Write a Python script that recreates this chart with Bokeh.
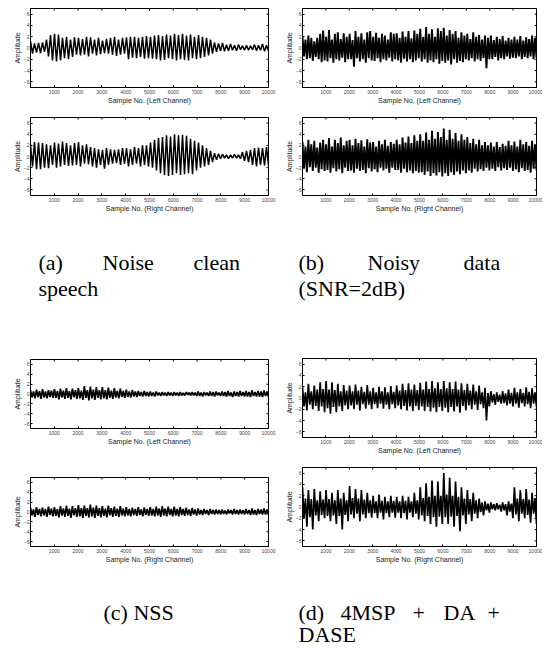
import numpy as np
from bokeh.plotting import figure
from bokeh.models import Range1d, FixedTicker, LinearAxis
from bokeh.layouts import row, column
from bokeh.core.properties import value
from bokeh.embed import file_html
from bokeh.resources import INLINE

# ---------------- data (peak / trough envelopes) ----------------
X_TICKS = [1000, 2000, 3000, 4000, 5000, 6000, 7000, 8000, 9000, 10000]
Y_TICKS = [-6, -4, -2, 0, 2, 4, 6]
X_MIN, X_MAX = 0, 10000
Y_MIN, Y_MAX = -7, 7

# (a) Noise clean speech
a_left_hi = [1.2, 0.8, 0.9, 1.0, 1.5, 2.3,
             2.5, 2.4, 1.8, 2.0, 1.5, 1.9,
             1.8, 1.6, 2.0, 1.9, 1.5, 1.8,
             1.3, 1.6, 1.8, 2.0, 1.5, 1.8,
             1.9, 2.0, 2.0, 1.8, 2.0, 2.1,
             2.0, 2.2, 2.3, 2.1, 2.4, 2.2,
             2.5, 2.3, 2.5, 2.2, 2.4, 2.0,
             2.3, 2.0, 1.8, 1.5, 1.0, 0.8,
             0.9, 0.6, 0.7, 0.5, 0.6, 0.4,
             0.5, 0.4, 0.6, 0.5, 0.7, 0.5]
a_left_lo = [-1.0, -0.8, -0.9, -0.7, -1.5, -2.2,
             -2.4, -2.2, -1.8, -2.0, -1.6, -1.2,
             -1.3, -1.2, -1.5, -1.0, -1.3, -1.1,
             -0.9, -1.0, -1.2, -1.4, -1.2, -1.0,
             -2.0, -1.7, -1.8, -1.6, -1.9, -1.8,
             -1.9, -2.0, -2.2, -2.1, -1.8, -2.0,
             -2.2, -2.0, -2.1, -2.2, -1.8, -2.0,
             -1.8, -1.6, -1.3, -1.0, -0.7, -0.5,
             -0.6, -0.5, -0.4, -0.5, -0.3, -0.4,
             -0.4, -0.3, -0.5, -0.4, -0.6, -0.5]
a_right_hi = [2.2, 2.6, 2.5, 2.4, 2.2, 2.0,
              2.5, 2.3, 2.7, 2.4, 2.0, 2.4,
              2.6, 2.0, 2.2, 1.7, 1.5, 1.3,
              1.2, 1.5, 1.3, 1.2, 1.3, 1.5,
              1.5, 1.3, 1.7, 1.5, 2.0, 2.0,
              2.5, 3.0, 3.3, 3.5, 3.8, 3.6,
              4.0, 3.8, 3.9, 3.7, 3.2, 2.8,
              2.5, 2.0, 1.5, 1.0, 0.6, 0.5,
              0.4, 0.3, 0.3, 0.4, 0.3, 0.8,
              1.0, 1.2, 1.5, 1.6, 1.5, 1.7]
a_right_lo = [-1.8, -2.3, -2.3, -2.0, -2.1, -1.5,
              -2.0, -1.8, -1.5, -1.7, -1.6, -1.5,
              -1.8, -1.3, -1.4, -1.8, -2.0, -1.5,
              -2.2, -1.5, -1.3, -1.2, -1.5, -1.3,
              -1.8, -1.5, -1.3, -1.8, -1.5, -1.8,
              -2.0, -2.5, -3.0, -3.3, -3.5, -3.3,
              -3.0, -3.3, -3.2, -3.0, -3.2, -2.5,
              -2.0, -1.8, -1.5, -1.0, -0.6, -0.4,
              -0.3, -0.4, -0.3, -0.3, -0.4, -0.8,
              -1.0, -1.5, -1.8, -1.5, -1.6, -1.6]

# (b) Noisy data (SNR=2dB)
b_left_hi = [2.0, 1.5, 2.2, 1.8, 1.2, 1.8, 2.5, 3.1,
             2.0, 3.2, 1.5, 2.5, 2.8, 1.6, 2.6, 2.0,
             2.5, 1.4, 3.0, 2.0, 2.6, 1.5, 2.8, 3.0,
             2.0, 2.7, 1.8, 2.5, 2.2, 1.5, 2.8, 2.5,
             2.6, 1.8, 2.9, 2.0, 3.0, 1.7, 3.1, 2.5,
             3.4, 2.0, 3.7, 2.5, 3.3, 2.0, 3.5, 3.0,
             3.6, 2.2, 3.2, 2.5, 3.0, 1.8, 2.8, 2.2,
             2.5, 1.6, 2.8, 2.0, 2.3, 1.5, 2.2, 1.8,
             2.2, 1.4, 2.0, 1.6, 2.1, 1.3, 1.8, 1.5,
             2.0, 1.5, 2.1, 1.3, 1.9, 1.6, 2.2, 1.8]
b_left_lo = [-1.5, -2.0, -1.8, -2.3, -1.6, -2.0, -2.5, -2.2,
             -2.4, -1.8, -2.6, -2.0, -2.2, -1.7, -2.5, -2.0,
             -2.0, -3.3, -1.8, -2.4, -2.0, -2.6, -1.8, -2.2,
             -2.3, -1.8, -2.5, -2.0, -2.2, -1.7, -2.4, -2.0,
             -2.2, -2.6, -1.9, -2.4, -2.0, -2.5, -2.2, -1.8,
             -2.4, -2.0, -2.6, -2.2, -2.5, -2.0, -2.8, -2.3,
             -2.6, -2.2, -2.9, -2.0, -2.6, -2.3, -2.5, -2.0,
             -2.2, -1.8, -2.4, -2.0, -2.3, -1.8, -3.6, -2.0,
             -2.0, -1.6, -2.2, -1.8, -2.0, -1.5, -1.9, -1.7,
             -1.8, -1.5, -2.0, -1.6, -1.8, -1.5, -2.0, -1.7]
b_right_hi = [2.6, 1.8, 3.0, 2.2, 2.8, 1.6, 2.5, 3.0,
              2.2, 3.3, 1.8, 3.0, 2.4, 3.4, 2.0, 2.8,
              3.0, 2.0, 3.2, 2.4, 2.9, 1.8, 3.1, 2.5,
              2.6, 1.8, 2.8, 2.2, 3.0, 1.9, 2.6, 2.3,
              3.0, 2.2, 3.4, 2.5, 3.6, 2.4, 3.8, 2.8,
              4.0, 2.8, 4.3, 3.0, 4.6, 3.2, 4.4, 3.5,
              5.0, 3.0, 4.8, 3.2, 4.2, 2.8, 4.0, 3.0,
              3.5, 2.4, 3.2, 2.2, 3.0, 2.0, 2.6, 2.0,
              2.5, 1.8, 2.6, 1.7, 2.3, 1.9, 2.8, 2.0,
              2.7, 1.8, 3.0, 2.2, 2.6, 1.9, 2.8, 2.2]
b_right_lo = [-2.2, -2.8, -1.9, -2.6, -2.0, -2.9, -2.3, -2.6,
              -2.4, -2.9, -2.1, -2.7, -2.3, -3.0, -2.0, -2.6,
              -2.5, -2.9, -2.2, -2.6, -2.4, -3.0, -2.1, -2.7,
              -2.3, -2.8, -2.0, -2.5, -2.2, -2.9, -2.0, -2.4,
              -2.4, -2.9, -2.2, -2.8, -2.5, -3.0, -2.6, -2.9,
              -2.8, -3.3, -2.7, -3.5, -3.0, -3.4, -2.8, -3.6,
              -3.0, -3.5, -2.8, -3.3, -2.7, -3.2, -2.5, -3.0,
              -2.5, -2.9, -2.2, -2.7, -2.3, -2.6, -2.0, -2.5,
              -2.2, -2.6, -1.9, -2.5, -2.1, -2.4, -2.0, -2.6,
              -2.3, -2.8, -2.1, -2.6, -2.4, -2.9, -2.2, -2.5]

# (c) NSS
c_left_hi = [0.8, 0.5, 0.9, 0.6, 1.0, 0.5, 0.8, 0.7,
             1.0, 0.6, 1.1, 0.7, 1.2, 0.6, 1.1, 0.8,
             1.2, 0.7, 1.6, 0.8, 1.5, 0.9, 1.4, 0.8,
             1.4, 0.8, 1.3, 0.7, 1.2, 0.6, 1.1, 0.6,
             0.9, 0.5, 0.8, 0.5, 0.6, 0.4, 0.6, 0.4,
             0.5, 0.3, 0.5, 0.3, 0.4, 0.3, 0.4, 0.3,
             0.4, 0.3, 0.4, 0.2, 0.4, 0.3, 0.4, 0.3,
             0.5, 0.3, 0.4, 0.3, 0.5, 0.4, 0.5, 0.3,
             0.5, 0.4, 0.6, 0.3, 0.5, 0.4, 0.6, 0.4,
             0.6, 0.4, 0.7, 0.4, 0.6, 0.5, 0.7, 0.5]
c_left_lo = [-0.7, -0.9, -0.6, -1.0, -0.7, -0.9, -0.6, -0.8,
             -0.8, -1.1, -0.7, -1.0, -0.8, -1.1, -0.7, -1.0,
             -0.9, -1.2, -0.8, -1.3, -0.9, -1.2, -0.8, -1.1,
             -0.9, -1.1, -0.8, -1.0, -0.7, -0.9, -0.6, -0.8,
             -0.6, -0.7, -0.5, -0.6, -0.4, -0.5, -0.4, -0.5,
             -0.4, -0.5, -0.3, -0.4, -0.3, -0.4, -0.3, -0.4,
             -0.3, -0.4, -0.3, -0.3, -0.2, -0.3, -0.3, -0.4,
             -0.4, -0.5, -0.3, -0.4, -0.4, -0.5, -0.3, -0.4,
             -0.4, -0.5, -0.4, -0.6, -0.4, -0.5, -0.4, -0.5,
             -0.5, -0.6, -0.4, -0.5, -0.5, -0.6, -0.4, -0.6]
c_right_hi = [0.9, 0.5, 1.0, 0.6, 0.9, 0.6, 1.1, 0.7,
              1.0, 0.6, 1.2, 0.7, 1.3, 0.7, 1.2, 0.8,
              1.4, 0.8, 1.3, 0.8, 1.5, 0.9, 1.3, 0.8,
              1.2, 0.7, 1.3, 0.8, 1.1, 0.7, 1.2, 0.7,
              1.0, 0.6, 0.9, 0.6, 1.0, 0.5, 0.9, 0.6,
              1.0, 0.6, 1.1, 0.7, 1.2, 0.7, 1.1, 0.6,
              1.1, 0.6, 1.0, 0.6, 0.9, 0.5, 0.8, 0.5,
              0.7, 0.4, 0.6, 0.4, 0.6, 0.4, 0.5, 0.4,
              0.5, 0.3, 0.5, 0.4, 0.6, 0.4, 0.5, 0.4,
              0.6, 0.4, 0.7, 0.4, 0.6, 0.5, 0.7, 0.5]
c_right_lo = [-0.7, -1.0, -0.6, -0.9, -0.7, -1.0, -0.6, -0.9,
              -0.8, -1.1, -0.7, -1.0, -0.8, -1.2, -0.7, -1.0,
              -0.9, -1.2, -0.8, -1.1, -0.9, -1.2, -0.8, -1.1,
              -0.8, -1.1, -0.7, -1.0, -0.8, -1.0, -0.7, -0.9,
              -0.7, -0.9, -0.6, -0.8, -0.6, -0.9, -0.6, -0.8,
              -0.7, -0.9, -0.7, -1.0, -0.7, -0.9, -0.6, -0.9,
              -0.7, -0.9, -0.6, -0.8, -0.6, -0.8, -0.5, -0.7,
              -0.5, -0.6, -0.4, -0.6, -0.4, -0.5, -0.4, -0.5,
              -0.4, -0.5, -0.3, -0.5, -0.4, -0.5, -0.4, -0.5,
              -0.4, -0.6, -0.5, -0.6, -0.4, -0.5, -0.5, -0.6]

# (d) 4MSP + DA + DASE
d_left_hi = [2.0, 1.0, 2.5, 1.2, 2.2, 1.5, 2.8, 1.6,
             3.0, 1.5, 2.8, 1.4, 2.5, 1.2, 2.3, 1.3,
             2.2, 1.2, 2.4, 1.3, 2.0, 1.1, 2.3, 1.2,
             1.8, 1.0, 2.0, 1.2, 1.9, 1.0, 2.1, 1.1,
             2.2, 1.3, 2.5, 1.4, 2.6, 1.5, 2.4, 1.4,
             2.7, 1.5, 2.9, 1.6, 3.0, 1.7, 2.8, 1.6,
             3.0, 1.7, 2.8, 1.6, 2.9, 1.5, 2.6, 1.4,
             2.5, 1.3, 2.4, 1.2, 2.2, 1.0, 1.8, 0.9,
             1.2, 0.7, 1.0, 0.6, 1.2, 0.8, 1.5, 0.9,
             1.8, 1.0, 1.6, 0.9, 1.9, 1.1, 1.7, 1.0]
d_left_lo = [-1.5, -2.2, -1.2, -2.0, -1.4, -2.3, -1.5, -2.5,
             -1.8, -2.8, -1.6, -2.5, -1.5, -2.3, -1.3, -2.0,
             -1.3, -2.0, -1.2, -2.2, -1.1, -1.9, -1.2, -2.0,
             -1.1, -1.8, -1.0, -1.9, -1.2, -2.0, -1.1, -1.8,
             -1.3, -2.0, -1.4, -2.2, -1.5, -2.3, -1.4, -2.1,
             -1.5, -2.3, -1.6, -2.4, -1.7, -2.5, -1.6, -2.3,
             -1.7, -2.5, -1.6, -2.4, -1.5, -2.6, -1.4, -2.2,
             -1.3, -2.0, -1.2, -2.1, -1.1, -1.8, -4.0, -1.5,
             -0.8, -1.2, -0.7, -1.0, -0.9, -1.3, -1.0, -1.5,
             -1.0, -1.7, -0.9, -1.5, -1.1, -1.8, -1.0, -1.6]
d_right_hi = [3.5, 1.5, 3.0, 1.4, 3.2, 1.2, 2.8, 1.3,
              3.0, 1.4, 2.5, 1.2, 3.0, 1.5, 2.5, 1.2,
              3.7, 1.6, 3.2, 1.5, 3.0, 1.3, 2.5, 1.2,
              2.0, 1.0, 2.2, 1.1, 1.8, 1.0, 2.0, 1.1,
              1.8, 1.0, 2.0, 1.1, 1.8, 1.0, 2.5, 1.2,
              3.5, 1.6, 4.2, 1.8, 4.7, 2.0, 4.5, 2.0,
              6.0, 2.2, 5.2, 2.0, 4.5, 1.8, 3.5, 1.5,
              3.0, 1.4, 2.5, 1.2, 1.5, 0.8, 1.0, 0.6,
              0.8, 0.5, 0.7, 0.4, 0.8, 0.5, 1.0, 0.6,
              3.5, 1.5, 3.0, 1.4, 3.2, 1.3, 2.5, 1.6]
d_right_lo = [-2.0, -3.5, -1.8, -4.0, -1.5, -2.5, -1.4, -2.0,
              -1.6, -2.5, -1.5, -3.0, -1.6, -4.0, -1.4, -2.5,
              -1.3, -2.0, -1.2, -2.5, -1.3, -2.0, -1.1, -1.9,
              -1.1, -2.0, -1.0, -2.2, -1.1, -1.8, -1.0, -1.9,
              -1.0, -2.0, -1.1, -2.2, -1.0, -1.8, -1.2, -2.2,
              -1.5, -2.5, -1.6, -3.0, -1.8, -3.5, -1.7, -3.0,
              -1.8, -3.0, -1.7, -3.5, -1.6, -4.3, -1.5, -3.0,
              -1.3, -2.5, -1.2, -2.0, -0.9, -1.5, -0.6, -1.0,
              -0.4, -0.6, -0.4, -0.8, -0.6, -1.5, -0.8, -2.0,
              -1.3, -2.5, -1.2, -2.0, -1.4, -2.8, -1.2, -3.0]

X_LABEL_L = "Sample No. (Left Channel)"
X_LABEL_R = "Sample No. (Right Channel)"
Y_LABEL = "Amplitude"

# ---------------- drawing ----------------
SANS = "Liberation Sans"
SERIF = "Liberation Serif"


def wave(hi, lo):
    ys = []
    for h, l in zip(hi, lo):
        ys += [h, l]
    xs = np.linspace(X_MIN, X_MAX, len(ys))
    return xs, ys


def style_axis(ax):
    ax.major_tick_in = 2
    ax.major_tick_out = 0
    ax.minor_tick_line_color = None
    ax.axis_line_color = "black"
    ax.major_tick_line_color = "black"
    ax.major_label_text_font = SANS
    ax.major_label_text_color = "#444444"
    ax.axis_label_text_font = SANS
    ax.axis_label_text_font_style = "normal"
    ax.axis_label_text_color = "#222222"


def panel(hi, lo, xlabel, width, left, right, top, frame_h, bottom, lw):
    p = figure(width=width, height=top + frame_h + bottom, title=None,
               x_range=Range1d(X_MIN, X_MAX), y_range=Range1d(Y_MIN, Y_MAX),
               output_backend="svg", toolbar_location=None,
               x_axis_location=None, y_axis_location=None,
               min_border_left=left, min_border_right=right,
               min_border_top=top, min_border_bottom=bottom)
    p.grid.visible = False
    p.outline_line_color = "black"
    p.outline_line_width = 1
    xs, ys = wave(hi, lo)
    p.line(xs, ys, line_color="black", line_width=lw)

    bx = LinearAxis(ticker=FixedTicker(ticks=X_TICKS), axis_label=xlabel)
    style_axis(bx)
    bx.major_label_text_font_size = "5px"
    bx.axis_label_text_font_size = "7px"
    bx.major_label_standoff = 2
    bx.axis_label_standoff = 0
    p.add_layout(bx, "below")

    ly = LinearAxis(ticker=FixedTicker(ticks=Y_TICKS), axis_label=Y_LABEL)
    style_axis(ly)
    ly.major_label_text_font_size = "5px"
    ly.axis_label_text_font_size = "7px"
    ly.major_label_standoff = 1
    ly.axis_label_standoff = 0
    p.add_layout(ly, "left")

    # inward tick marks on the top and right edges of the box (clipped to the frame)
    p.scatter(x=X_TICKS, y=[Y_MAX] * len(X_TICKS), marker="dash", size=4,
              angle=np.pi / 2, line_color="black", line_width=1)
    p.scatter(x=[X_MAX] * len(Y_TICKS), y=Y_TICKS, marker="dash", size=4,
              line_color="black", line_width=1)
    return p


TOTAL_W = 542


def caption(height, words):
    p = figure(width=TOTAL_W, height=height, title=None,
               x_range=Range1d(0, TOTAL_W), y_range=Range1d(height, 0),
               output_backend="svg", toolbar_location=None, min_border=0,
               x_axis_location=None, y_axis_location=None)
    p.grid.visible = False
    p.outline_line_color = None
    xs = [w[0] for w in words]
    ys = [w[1] for w in words]
    ts = [w[2] for w in words]
    p.text(x=xs, y=ys, text=ts, text_font=value(SERIF), text_font_size="22px",
           text_baseline="alphabetic", text_align="left", text_color="black")
    return p


LW_W, RW_W = 280, 262
L_LEFT, L_RIGHT = 30, 12
R_LEFT, R_RIGHT = 22, 6

a_top = panel(a_left_hi, a_left_lo, X_LABEL_L, LW_W, L_LEFT, L_RIGHT, 8, 79, 21, 1.5)
b_top = panel(b_left_hi, b_left_lo, X_LABEL_L, RW_W, R_LEFT, R_RIGHT, 8, 79, 21, 1.9)
a_bot = panel(a_right_hi, a_right_lo, X_LABEL_R, LW_W, L_LEFT, L_RIGHT, 9, 78, 20, 1.5)
b_bot = panel(b_right_hi, b_right_lo, X_LABEL_R, RW_W, R_LEFT, R_RIGHT, 9, 78, 20, 1.9)

cap_ab = caption(125, [(38, 47, "(a)"), (102, 47, "Noise"), (193, 47, "clean"),
                       (38, 73, "speech"),
                       (298, 47, "(b)"), (367, 47, "Noisy"), (463, 47, "data"),
                       (298, 73, "(SNR=2dB)")])

c_top = panel(c_left_hi, c_left_lo, X_LABEL_L, LW_W, L_LEFT, L_RIGHT, 19, 69, 22, 1.7)
c_bot = panel(c_right_hi, c_right_lo, X_LABEL_R, LW_W, L_LEFT, L_RIGHT, 27, 69, 24, 1.7)
d_top = panel(d_left_hi, d_left_lo, X_LABEL_L, RW_W, R_LEFT, R_RIGHT, 18, 79, 21, 1.7)
d_bot = panel(d_right_hi, d_right_lo, X_LABEL_R, RW_W, R_LEFT, R_RIGHT, 9, 79, 24, 1.7)

cap_cd = caption(78, [(103, 42, "(c) NSS"),
                      (298, 42, "(d)"), (340, 42, "4MSP"), (412, 42, "+"),
                      (443, 42, "DA"), (487, 42, "+"),
                      (298, 64, "DASE")])

layout = column(row(a_top, b_top), row(a_bot, b_bot), cap_ab,
                row(column(c_top, c_bot), column(d_top, d_bot)), cap_cd)

open("out.html", "w").write(file_html(layout, INLINE))
